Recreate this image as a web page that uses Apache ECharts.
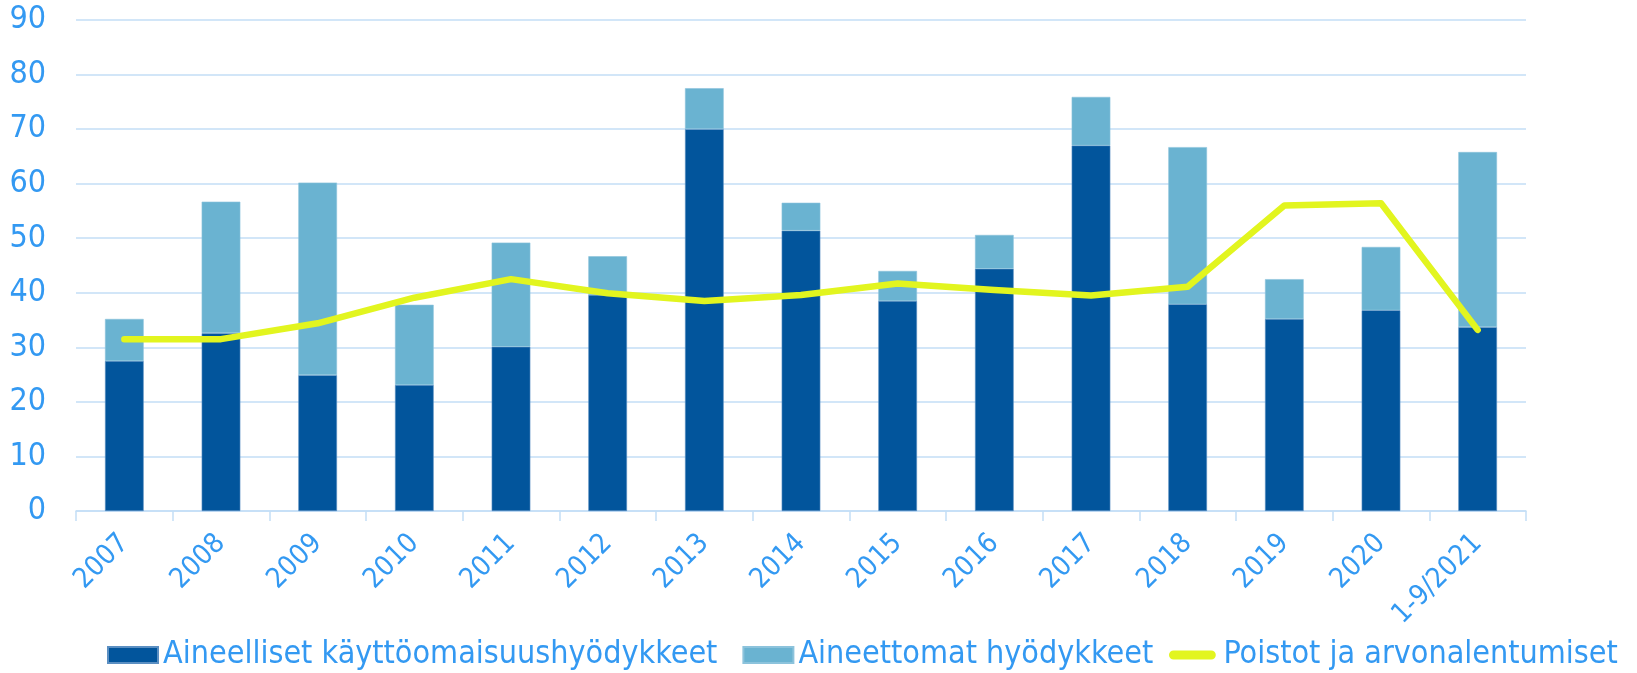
<!DOCTYPE html>
<html>
<head>
<meta charset="utf-8">
<script src="https://cdn.jsdelivr.net/npm/echarts@6/dist/echarts.min.js"></script>
<style>
  html, body { margin: 0; padding: 0; background: #ffffff; }
  #chart { width: 1637px; height: 673px; }
</style>
</head>
<body>
<div id="chart"></div>
<script>
// Investments by year (M€): tangible and intangible assets, with depreciation line
const categories = ['2007', '2008', '2009', '2010', '2011', '2012', '2013', '2014',
  '2015', '2016', '2017', '2018', '2019', '2020', '1-9/2021'];
const tangibleAssets = [27.5, 32.6, 24.9, 23.1, 30.1, 39.6, 70.0, 51.4, 38.5, 44.4, 67.0, 37.9, 35.2, 36.8, 33.7];
const intangibleAssets = [7.7, 24.1, 35.3, 14.7, 19.1, 7.1, 7.5, 5.1, 5.5, 6.2, 8.9, 28.8, 7.3, 11.6, 32.1];
const depreciation = [31.5, 31.5, 34.4, 39.1, 42.5, 39.9, 38.5, 39.6, 41.7, 40.5, 39.5, 41.1, 56.0, 56.4, 33.2];
const yTicks = { min: 0, max: 90, interval: 10 };

const names = ['Aineelliset käyttöomaisuushyödykkeet', 'Aineettomat hyödykkeet', 'Poistot ja arvonalentumiset'];
const textBlue = '#3399f2';
const gridBlue = '#c3def6';
const fontFamily = '"DejaVu Sans Condensed", "DejaVu Sans", sans-serif';

const chart = echarts.init(document.getElementById('chart'), null, { renderer: 'canvas' });
chart.setOption({
  animation: false,
  backgroundColor: '#ffffff',
  grid: { left: 76, right: 111, top: 20, bottom: 162, containLabel: false },
  legend: [
    {
      data: [names[0], names[1]],
      left: 102, top: 634,
      itemWidth: 50, itemHeight: 16, itemGap: 25,
      icon: 'rect',
      textStyle: { color: textBlue, fontSize: 32, fontFamily: fontFamily }
    },
    {
      data: [{
        name: names[2],
        icon: 'path://M5,0 L47,0 A5,5 0 0 1 47,10 L5,10 A5,5 0 0 1 5,0 Z',
        itemStyle: { color: '#e2f51f' }
      }],
      left: 1164, top: 634,
      itemWidth: 52, itemHeight: 9,
      textStyle: { color: textBlue, fontSize: 32, fontFamily: fontFamily }
    }
  ],
  xAxis: {
    type: 'category',
    data: categories,
    boundaryGap: true,
    axisLine: { lineStyle: { color: gridBlue, width: 1.5 } },
    axisTick: { show: true, length: 10, alignWithLabel: false, lineStyle: { color: gridBlue, width: 1.5 } },
    axisLabel: {
      rotate: 45, margin: 28, color: textBlue, fontSize: 28, fontFamily: fontFamily,
      interval: 0
    }
  },
  yAxis: {
    type: 'value',
    min: yTicks.min, max: yTicks.max, interval: yTicks.interval,
    axisLine: { show: false },
    axisTick: { show: false },
    splitLine: { lineStyle: { color: gridBlue, width: 1.5 } },
    axisLabel: { margin: 30, color: textBlue, fontSize: 32, fontFamily: fontFamily }
  },
  series: [
    {
      name: names[0], type: 'bar', stack: 'inv', barWidth: '40%',
      data: tangibleAssets,
      itemStyle: { color: '#02559c', borderColor: '#5b8fc2', borderWidth: 0.6 }
    },
    {
      name: names[1], type: 'bar', stack: 'inv', barWidth: '40%',
      data: intangibleAssets,
      itemStyle: { color: '#6ab3d1', borderColor: '#8cc3dc', borderWidth: 0.6 }
    },
    {
      name: names[2], type: 'line', data: depreciation,
      symbol: 'none', z: 5,
      lineStyle: { color: '#e2f51f', width: 6.5, cap: 'round', join: 'round' },
      itemStyle: { color: '#e2f51f' }
    }
  ]
});
</script>
</body>
</html>
